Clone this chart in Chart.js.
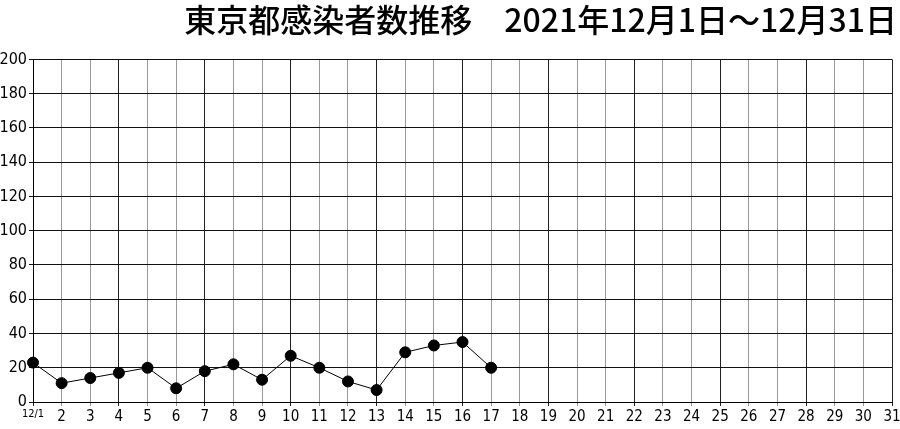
<!DOCTYPE html>
<html>
<head>
<meta charset="utf-8">
<script src="https://cdn.jsdelivr.net/npm/chart.js@4.4.0/dist/chart.umd.min.js"></script>
<style>
  html, body { margin: 0; padding: 0; background: #fff; }
  #wrap { width: 900px; height: 429px; }
</style>
</head>
<body>
<div id="wrap"><canvas id="myChart"></canvas></div>
<script>
const titulo = '東京都感染者数推移　2021年12月1日～12月31日'

const dias = ['12/1', '2', '3', '4', '5', '6', '7', '8', '9', '10', '11', '12', '13', '14', '15', '16',
  '17', '18', '19', '20', '21', '22', '23', '24', '25', '26', '27', '28', '29', '30', '31']

const casos = [23, 11, 14, 17, 20, 8, 18, 22, 13, 27, 20, 12, 7, 29, 33, 35, 20,
  null, null, null, null, null, null, null, null, null, null, null, null, null, null]

const ctx = document.getElementById('myChart')

const fonte = "'Liberation Sans Narrow', 'DejaVu Sans Condensed', 'Noto Sans CJK JP', sans-serif"

new Chart(ctx, {
  type: 'line',
  data: {
    labels: dias,
    datasets: [{
      data: casos,
      borderColor: '#000',
      borderWidth: 1,
      backgroundColor: '#000',
      pointRadius: 5.5,
      pointHoverRadius: 5.5,
      spanGaps: false,
      tension: 0
    }]
  },
  options: {
    responsive: true,
    maintainAspectRatio: false,
    animation: false,
    layout: { autoPadding: false, padding: { left: 0, right: 3, top: 0, bottom: 0 } },
    plugins: {
      legend: { display: false },
      tooltip: { enabled: false },
      title: {
        display: true,
        text: titulo,
        align: 'end',
        color: '#000',
        font: { family: "'Noto Sans CJK JP', sans-serif", size: 32, weight: '500', lineHeight: 1.2 },
        padding: { top: 1, bottom: 20 }
      }
    },
    scales: {
      x: {
        offset: false,
        grid: {
          color: c => (c.index % 3 === 0 ? '#222' : '#999'),
          lineWidth: 1,
          drawTicks: true,
          tickLength: 4
        },
        border: { color: '#000' },
        ticks: {
          color: '#000',
          maxRotation: 0,
          autoSkip: false,
          padding: 2,
          font: c => ({ family: fonte, size: c.index === 0 ? 11 : 15 })
        },
        afterFit: s => {
          s.height = 27
          s.paddingLeft = 0
          s.paddingRight = 8
        }
      },
      y: {
        min: 0,
        max: 200,
        ticks: {
          stepSize: 20,
          color: '#000',
          padding: 2,
          font: { family: fonte, size: 16 }
        },
        grid: { color: '#111', lineWidth: 1, tickLength: 4 },
        border: { color: '#000' },
        afterFit: s => {
          s.width = 33
          s.paddingTop = 0
          s.paddingBottom = 0
        }
      }
    }
  }
})
</script>
</body>
</html>
